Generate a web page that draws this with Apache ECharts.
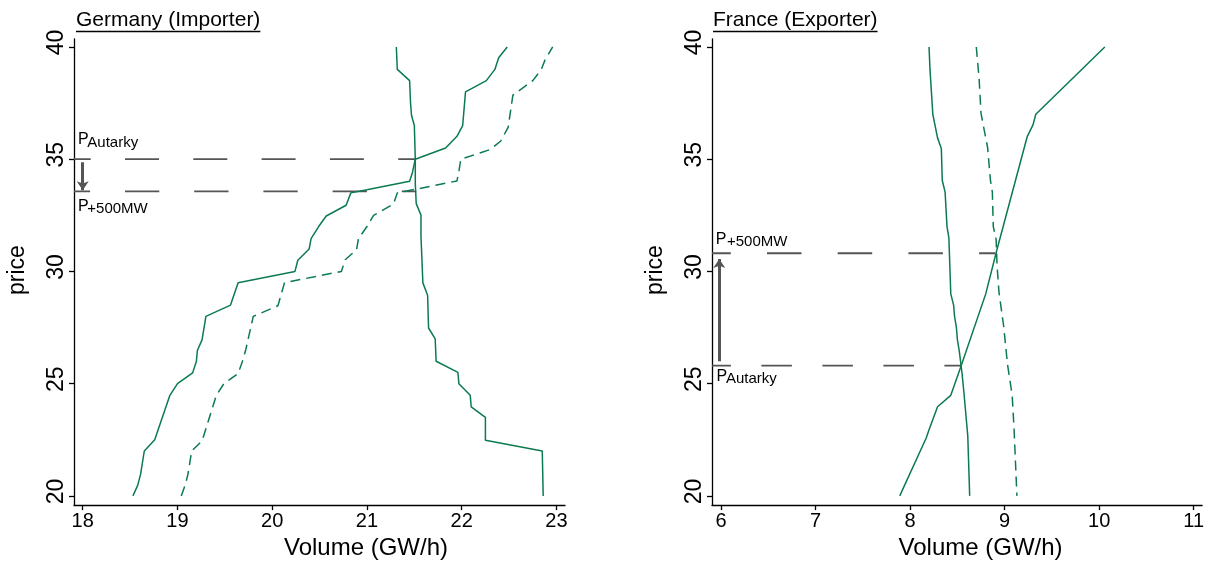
<!DOCTYPE html>
<html><head><meta charset="utf-8">
<script src="https://cdn.jsdelivr.net/npm/echarts@6/dist/echarts.min.js"></script>
<style>html,body{margin:0;padding:0;background:#fff}#c{width:1207px;height:565px}</style>
</head><body><div id="c"></div>
<script>
// ---------- tick labels ----------
const deVolTicks = [18, 19, 20, 21, 22, 23];
const frVolTicks = [6, 7, 8, 9, 10, 11];
const priceTicks = [20, 25, 30, 35, 40];

// ---------- Germany (Importer): [volume GW/h, price] ----------
const deSupplyAutarky = [[18.53,20.0],[18.58,20.47],[18.61,20.95],[18.65,22.0],[18.76,22.5],[18.92,24.48],[19.0,25.0],[19.16,25.48],[19.20,26.0],[19.21,26.48],[19.26,26.96],[19.30,28.0],[19.56,28.5],[19.64,29.5],[20.24,30.0],[20.27,30.5],[20.39,31.0],[20.41,31.46],[20.49,32.0],[20.57,32.47],[20.78,32.95],[20.83,33.5],[21.0,33.64],[21.45,34.02],[21.48,34.41],[21.51,35.0],[21.83,35.5],[21.95,36.02],[22.01,36.5],[22.04,38.0],[22.26,38.5],[22.35,39.0],[22.39,39.52],[22.48,40.0]];
const deSupply500 = [[19.04,20.0],[19.08,20.47],[19.11,20.95],[19.15,22.0],[19.26,22.45],[19.41,24.48],[19.49,25.0],[19.64,25.45],[19.69,26.05],[19.72,26.5],[19.80,28.0],[20.06,28.47],[20.13,29.5],[20.73,30.0],[20.77,30.52],[20.89,30.97],[20.91,31.46],[21.0,32.0],[21.07,32.5],[21.28,33.0],[21.32,33.5],[21.95,34.03],[21.97,34.45],[21.99,35.0],[22.30,35.43],[22.41,35.8],[22.49,36.42],[22.54,37.85],[22.75,38.5],[22.84,39.0],[22.88,39.43],[22.96,40.0]];
const deDemand = [[21.31,40.0],[21.32,39.0],[21.45,38.5],[21.46,37.48],[21.47,36.96],[21.50,36.5],[21.51,35.0],[21.51,33.9],[21.52,33.02],[21.57,32.51],[21.57,31.56],[21.58,30.54],[21.59,29.49],[21.64,28.94],[21.65,27.48],[21.72,27.0],[21.73,26.0],[21.96,25.5],[21.97,25.0],[22.09,24.48],[22.10,23.97],[22.25,23.5],[22.25,22.48],[22.85,22.0],[22.86,20.0]];
const dePriceAutarky = 35.0, dePriceAutarkyEnd = 21.51;
const dePrice500 = 33.57, dePrice500End = 21.52;

// ---------- France (Exporter) ----------
const frSupply = [[7.89,20.0],[8.17,22.58],[8.20,22.95],[8.29,23.97],[8.43,24.48],[8.54,25.80],[8.80,29.0],[8.91,30.83],[9.24,36.02],[9.30,36.53],[9.33,37.0],[10.06,40.0]];
const frDemandAutarky = [[8.20,40.0],[8.21,39.0],[8.24,37.0],[8.29,35.95],[8.33,35.48],[8.34,34.05],[8.37,33.53],[8.39,32.0],[8.41,31.49],[8.42,30.25],[8.43,29.0],[8.46,28.5],[8.47,28.0],[8.49,27.48],[8.50,26.96],[8.52,26.45],[8.55,25.43],[8.57,24.56],[8.61,22.66],[8.63,20.0]];
const frDemand500 = [[8.70,40.0],[8.73,38.57],[8.75,37.04],[8.82,35.51],[8.85,34.05],[8.87,33.53],[8.88,32.0],[8.91,31.42],[8.92,30.25],[8.94,29.08],[8.99,27.55],[9.03,25.87],[9.08,24.48],[9.10,22.95],[9.13,20.0]];
const frPriceAutarky = 25.80, frPriceAutarkyEnd = 8.54;
const frPrice500 = 30.81, frPrice500End = 8.90;

// ---------- layout / style ----------
const FONT = '"Liberation Sans", Arial, sans-serif';
const GREEN = '#0b7b4f';
const GREY = '#555555';
const deXRange = [17.908, 23.09], frXRange = [5.903, 11.09], yRange = [19.59, 40.355];

const chart = echarts.init(document.getElementById('c'), null, {renderer: 'canvas'});

function xAxis(gi, range, ticks, namePad) {
  return {
    gridIndex: gi, type: 'value', min: range[0], max: range[1],
    name: 'Volume (GW/h)', nameLocation: 'middle', nameGap: 23,
    nameTextStyle: {fontFamily: FONT, fontSize: 24, color: '#000', padding: [0, 0, 0, namePad]},
    axisLine: {show: true, onZero: false, lineStyle: {color: '#000', width: 1.3}},
    axisTick: {show: true, length: 5, lineStyle: {color: '#000', width: 1.3}, customValues: ticks},
    axisLabel: {fontFamily: FONT, fontSize: 20, color: '#000', margin: 6, customValues: ticks},
    splitLine: {show: false}
  };
}
function yAxis(gi) {
  return {
    gridIndex: gi, type: 'value', min: yRange[0], max: yRange[1],
    name: 'price', nameLocation: 'middle', nameGap: 45,
    nameTextStyle: {fontFamily: FONT, fontSize: 23, color: '#000', padding: [0, 0, 0, 4]},
    axisLine: {show: true, onZero: false, lineStyle: {color: '#000', width: 1.3}},
    axisTick: {show: true, length: 5, lineStyle: {color: '#000', width: 1.3}, customValues: priceTicks},
    axisLabel: {fontFamily: FONT, fontSize: 23, color: '#000', margin: 6, rotate: 90, padding: [0, 0, 0, 9], customValues: priceTicks},
    splitLine: {show: false}
  };
}
function curve(gi, data, dashed) {
  return {
    type: 'line', xAxisIndex: gi, yAxisIndex: gi, data: data, showSymbol: false, symbol: 'none',
    silent: true, animation: false,
    lineStyle: {color: GREEN, width: 1.5, type: dashed ? [10, 6] : 'solid'}
  };
}
function priceLine(gi, xMin, xEnd, p, dash, offset) {
  return {
    type: 'line', xAxisIndex: gi, yAxisIndex: gi, data: [[xMin, p], [xEnd, p]],
    showSymbol: false, symbol: 'none', silent: true, animation: false, z: 1,
    lineStyle: {color: GREY, width: 1.8, type: dash, dashOffset: offset}
  };
}
function arrow(gi, x, from, to) {
  return {
    type: 'lines', coordinateSystem: 'cartesian2d', xAxisIndex: gi, yAxisIndex: gi,
    silent: true, animation: false, symbol: ['none', 'arrow'], symbolSize: [8, 9],
    lineStyle: {color: GREY, width: 3, opacity: 1},
    data: [{coords: [[x, from], [x, to]]}]
  };
}

chart.setOption({
  animation: false,
  backgroundColor: '#fff',
  grid: [
    {left: 74, top: 39, width: 491, bottom: 52},
    {left: 712, top: 39, width: 491, bottom: 52}
  ],
  xAxis: [xAxis(0, deXRange, deVolTicks, 93), xAxis(1, frXRange, frVolTicks, 47)],
  yAxis: [yAxis(0), yAxis(1)],
  series: [
    priceLine(0, deXRange[0], dePriceAutarkyEnd, dePriceAutarky, [34, 34.3], 17.3),
    priceLine(0, deXRange[0], dePrice500End, dePrice500, [34.3, 34.9], 18.2),
    priceLine(1, frXRange[0], frPriceAutarkyEnd, frPriceAutarky, [30.5, 30.5], 11.6),
    priceLine(1, frXRange[0], frPrice500End, frPrice500, [34.5, 36.2], 15.7),
    curve(0, deSupplyAutarky, false),
    curve(0, deSupply500, true),
    curve(0, deDemand, false),
    curve(1, frSupply, false),
    curve(1, frDemandAutarky, false),
    curve(1, frDemand500, true),
    arrow(0, 18.0, 34.86, 33.62),
    arrow(1, 5.98, 26.0, 30.55)
  ]
});

// ---------- annotations anchored on the price lines ----------
const ctx = document.createElement('canvas').getContext('2d');
function textWidth(t, size) { ctx.font = size + 'px "Liberation Sans"'; return ctx.measureText(t).width; }
function txt(t, x, baseline, size) {
  return {type: 'text', silent: true, style: {text: t, x: x, y: baseline - 0.36 * size, font: size + 'px ' + FONT, fill: '#000', verticalAlign: 'middle', align: 'left'}};
}
function sub(gi, xMin, p, dxP, dyP, dxS, dyS, s) {
  const pt = chart.convertToPixel({xAxisIndex: gi, yAxisIndex: gi}, [xMin, p]);
  return [txt('P', pt[0] + dxP, pt[1] + dyP, 16), txt(s, pt[0] + dxS, pt[1] + dyS, 15)];
}
function title(t, x) {
  const w = textWidth(t, 21);
  return [txt(t, x, 28, 21), {type: 'line', silent: true, shape: {x1: x, y1: 31.5, x2: x + w, y2: 31.5}, style: {stroke: '#000', lineWidth: 1.3}}];
}
chart.setOption({
  graphic: [].concat(
    title('Germany (Importer)', 76),
    title('France (Exporter)', 713),
    sub(0, deXRange[0], dePriceAutarky, 4, -13.7, 13.3, -11.2, 'Autarky'),
    sub(0, deXRange[0], dePrice500, 4, 21.2, 13.3, 23, '+500MW'),
    sub(1, frXRange[0], frPrice500, 3.7, -8, 15, -5.6, '+500MW'),
    sub(1, frXRange[0], frPriceAutarky, 4.4, 16.6, 14, 18.3, 'Autarky')
  )
});
</script></body></html>
